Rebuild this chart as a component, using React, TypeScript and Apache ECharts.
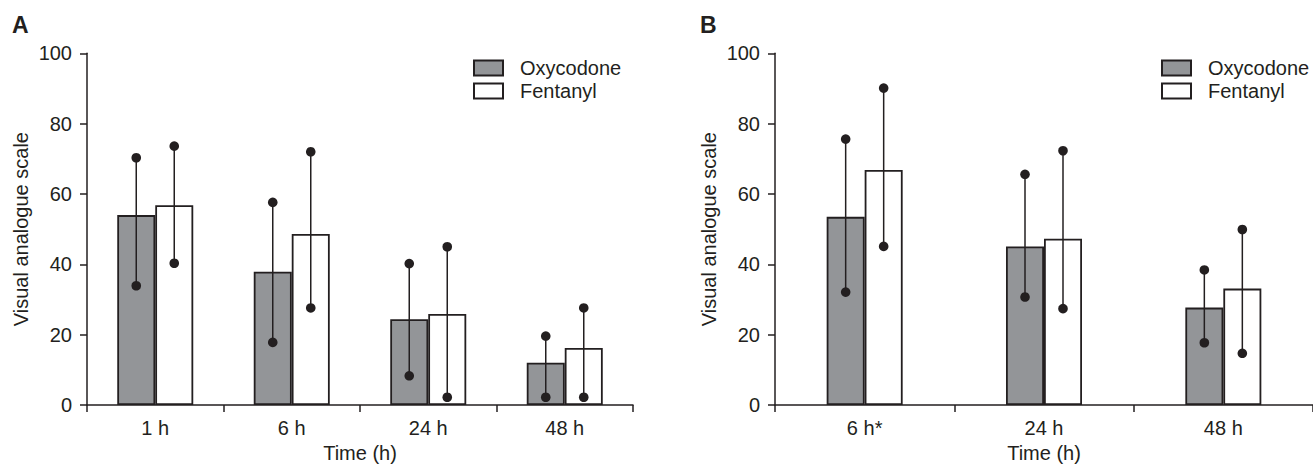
import React, { useEffect, useRef } from "react";
import * as echarts from "echarts";

const catsA = ["1 h", "6 h", "24 h", "48 h"];
const oxyA = [54.0, 37.9, 24.4, 12.0];
const fenA = [56.8, 48.6, 25.9, 16.2];
const oxyALow = [33.9, 17.8, 8.3, 2.2];
const oxyAHigh = [70.3, 57.6, 40.2, 19.6];
const fenALow = [40.3, 27.6, 2.2, 2.2];
const fenAHigh = [73.6, 72.0, 45.0, 27.6];

const catsB = ["6 h*", "24 h", "48 h"];
const oxyB = [53.5, 45.1, 27.7];
const fenB = [66.8, 47.3, 33.1];
const oxyBLow = [32.1, 30.7, 17.7];
const oxyBHigh = [75.6, 65.6, 38.4];
const fenBLow = [45.1, 27.4, 14.7];
const fenBHigh = [90.1, 72.3, 49.9];

const yTicks = { min: 0, max: 100, interval: 20 };

const DARK = "#231f20";
const GREY = "#939598";
const FONT = "Liberation Sans, Arial, sans-serif";
const FS = 20;
const BAR_W = 38;

function errRender(offset: number) {
  return (params: any, api: any) => {
    const cat = api.value(0);
    const lo = api.coord([cat, api.value(1)]);
    const hi = api.coord([cat, api.value(2)]);
    const x = lo[0] + offset;
    return {
      type: "group",
      children: [
        { type: "line", shape: { x1: x, y1: lo[1], x2: x, y2: hi[1] }, style: { stroke: DARK, lineWidth: 1.5 } },
        { type: "circle", shape: { cx: x, cy: lo[1], r: 4.8 }, style: { fill: DARK } },
        { type: "circle", shape: { cx: x, cy: hi[1], r: 4.8 }, style: { fill: DARK } },
      ],
    };
  };
}

function xAxisCfg(cats: string[], gridIndex: number) {
  return {
    type: "category",
    gridIndex,
    data: cats,
    name: "Time (h)",
    nameLocation: "middle",
    nameGap: 34,
    nameTextStyle: { color: DARK, fontSize: FS, fontFamily: FONT },
    axisLine: { show: true, lineStyle: { color: DARK, width: 1.5 } },
    axisTick: { show: true, length: 7, alignWithLabel: false, lineStyle: { color: DARK, width: 1.5 } },
    axisLabel: { color: DARK, fontSize: FS, fontFamily: FONT, margin: 13 },
    splitLine: { show: false },
  };
}

function yAxisCfg(gridIndex: number) {
  return {
    type: "value",
    gridIndex,
    min: yTicks.min,
    max: yTicks.max,
    interval: yTicks.interval,
    name: "Visual analogue scale",
    nameLocation: "middle",
    nameGap: 56,
    nameTextStyle: { color: DARK, fontSize: FS, fontFamily: FONT },
    axisLine: { show: true, lineStyle: { color: DARK, width: 1.5 } },
    axisTick: { show: true, length: 7, lineStyle: { color: DARK, width: 1.5 } },
    axisLabel: { color: DARK, fontSize: FS, fontFamily: FONT, margin: 15 },
    splitLine: { show: false },
  };
}

function barSeries(name: string, data: number[], idx: number, fill: string) {
  return {
    type: "bar",
    name,
    xAxisIndex: idx,
    yAxisIndex: idx,
    data,
    barWidth: BAR_W,
    barGap: "0%",
    itemStyle: { color: fill, borderColor: DARK, borderWidth: 1.8 },
    z: 2,
  };
}

function errSeries(name: string, lo: number[], hi: number[], idx: number, offset: number) {
  return {
    type: "custom",
    name,
    xAxisIndex: idx,
    yAxisIndex: idx,
    data: lo.map((l, i) => [i, l, hi[i]]),
    encode: { x: 0, y: [1, 2] },
    renderItem: errRender(offset),
    z: 5,
    clip: false,
  };
}

function legendCfg(left: number) {
  return {
    data: ["Oxycodone", "Fentanyl"],
    orient: "vertical",
    left,
    top: 58,
    padding: 0,
    itemGap: 3,
    itemWidth: 29,
    itemHeight: 15,
    icon: "rect",
    selectedMode: false,
    textStyle: { color: DARK, fontSize: FS, fontFamily: FONT, padding: [0, 0, 0, 12] },
  };
}

export default function App() {
  const ref = useRef<HTMLDivElement>(null);
  useEffect(() => {
    if (!ref.current) return;
    const chart = echarts.init(ref.current, null, { renderer: "svg" });
    chart.setOption({
      animation: false,
      backgroundColor: "#ffffff",
      title: [
        { text: "A", left: 12, top: 13, padding: 0, textStyle: { fontSize: 23, fontWeight: "bold", color: DARK, fontFamily: FONT } },
        { text: "B", left: 700, top: 13, padding: 0, textStyle: { fontSize: 23, fontWeight: "bold", color: DARK, fontFamily: FONT } },
      ],
      legend: [legendCfg(473), legendCfg(1161)],
      grid: [
        { left: 87, top: 53.3, width: 546, height: 351.7 },
        { left: 775, top: 53.3, width: 546, height: 351.7 },
      ],
      xAxis: [xAxisCfg(catsA, 0), xAxisCfg(catsB, 1)],
      yAxis: [yAxisCfg(0), yAxisCfg(1)],
      series: [
        barSeries("Oxycodone", oxyA, 0, GREY),
        barSeries("Fentanyl", fenA, 0, "#ffffff"),
        barSeries("Oxycodone", oxyB, 1, GREY),
        barSeries("Fentanyl", fenB, 1, "#ffffff"),
        errSeries("errOxyA", oxyALow, oxyAHigh, 0, -BAR_W / 2),
        errSeries("errFenA", fenALow, fenAHigh, 0, BAR_W / 2),
        errSeries("errOxyB", oxyBLow, oxyBHigh, 1, -BAR_W / 2),
        errSeries("errFenB", fenBLow, fenBHigh, 1, BAR_W / 2),
      ],
    });
    return () => chart.dispose();
  }, []);
  return (
    <div
      ref={ref}
      style={{ position: "absolute", left: 0, top: 0, width: 1313, height: 473 }}
    />
  );
}
